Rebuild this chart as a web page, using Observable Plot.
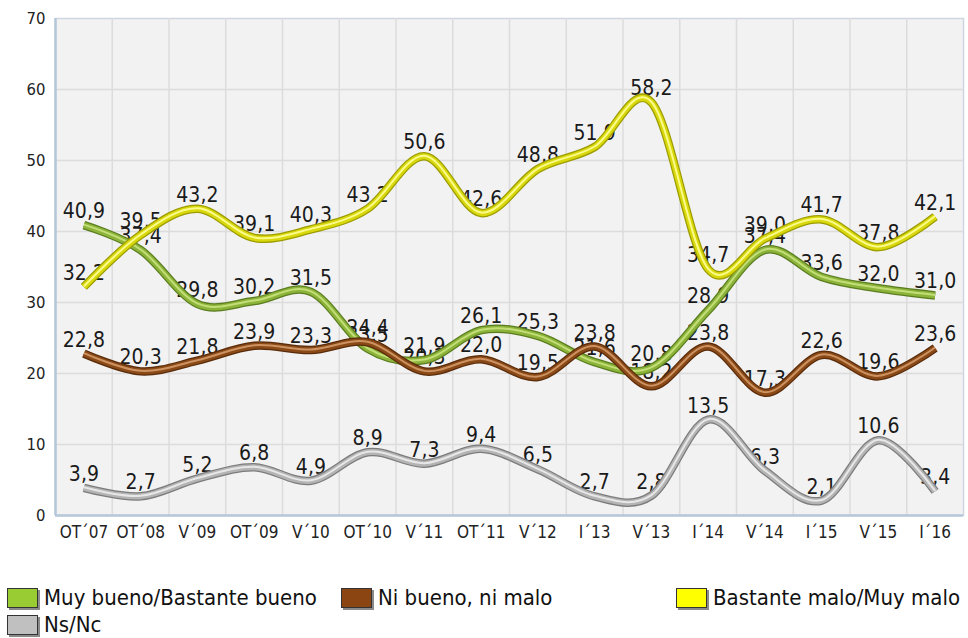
<!DOCTYPE html>
<html>
<head>
<meta charset="utf-8">
<script src="https://cdn.jsdelivr.net/npm/d3@7"></script>
<script src="https://cdn.jsdelivr.net/npm/@observablehq/plot@0.6"></script>
<style>
  html, body { margin: 0; padding: 0; background: #ffffff; }
  #wrap { position: relative; width: 968px; height: 638px; font-family: "DejaVu Sans Condensed", "DejaVu Sans", sans-serif; }
  .item { position: absolute; display: flex; align-items: center; font-size: 22px; color: #111; white-space: nowrap; }
  .sw { width: 31px; height: 20px; border: 1.5px solid #333; box-shadow: 2px 2px 0 #8a8a8a; margin-right: 6px; box-sizing: border-box; }
</style>
</head>
<body>
<div id="wrap"></div>
<script>
const categories = ["OT´07","OT´08","V´09","OT´09","V´10","OT´10","V´11","OT´11","V´12","I´13","V´13","I´14","V´14","I´15","V´15","I´16"];
const seriesNames = ["Muy bueno/Bastante bueno","Ni bueno, ni malo","Bastante malo/Muy malo","Ns/Nc"];
const bueno = [40.9,37.4,29.8,30.2,31.5,23.5,21.9,26.1,25.3,21.6,20.8,28.9,37.4,33.6,32.0,31.0];
const regular = [22.8,20.3,21.8,23.9,23.3,24.4,20.3,22.0,19.5,23.8,18.2,23.8,17.3,22.6,19.6,23.6];
const malo = [32.2,39.5,43.2,39.1,40.3,43.2,50.6,42.6,48.8,51.9,58.2,34.7,39.0,41.7,37.8,42.1];
const nsnc = [3.9,2.7,5.2,6.8,4.9,8.9,7.3,9.4,6.5,2.7,2.8,13.5,6.3,2.1,10.6,3.4];
const yTicks = [0,10,20,30,40,50,60,70];

const seriesValues = [bueno, regular, malo, nsnc];
const styles = [
  {main:"#8cb43a", dark:"#5b7d1f", light:"#c9e27e", swatch:"#99cc33"},
  {main:"#8a4a18", dark:"#5a2c0a", light:"#d49a68", swatch:"#8b4513"},
  {main:"#d8d80c", dark:"#9c9c00", light:"#ffff9a", swatch:"#ffff00"},
  {main:"#b4b4b4", dark:"#7c7c7c", light:"#ececec", swatch:"#c0c0c0"}
];

const data = seriesValues.map((vals, s) => vals.map((v, i) => ({s, i, v})));
const idx = categories.map((c, i) => i);
const bounds = idx.slice(0, -1).map(i => i + 0.5);
const fmt = v => v.toFixed(1).replace(".", ",");

const marks = [
  Plot.frame({fill: "#f2f2f2", stroke: "#cdd6e0", strokeWidth: 1.5}),
  Plot.ruleY(yTicks.filter(t => t > 0 && t < 70), {stroke: "#dcdcdc", strokeWidth: 1.5}),
  Plot.ruleX(bounds, {stroke: "#dcdcdc", strokeWidth: 1.5}),
  Plot.ruleX([-0.5], {stroke: "#b6c7da", strokeWidth: 2.5}),
  Plot.ruleY([0], {stroke: "#b6c7da", strokeWidth: 2.5}),
  Plot.axisY({ticks: yTicks, tickSize: 0, tickPadding: 10, fontSize: 16.5, label: null, fill: "#222"}),
  Plot.axisX({ticks: idx, tickFormat: i => categories[i], tickSize: 0, tickPadding: 10, fontSize: 17, label: null, fill: "#222"})
];
// labels (beneath lines, as in the reference)
data.forEach(d => {
  marks.push(Plot.text(d, {x: "i", y: "v", text: r => fmt(r.v), lineAnchor: "bottom", dy: -7, fontSize: 21, fill: "#1a1a1a"}));
});
data.forEach((d, s) => {
  const st = styles[s];
  marks.push(Plot.line(d, {x: "i", y: "v", curve: "cardinal", stroke: st.dark, strokeWidth: 8.5, strokeLinecap: "butt"}));
  marks.push(Plot.line(d, {x: "i", y: "v", curve: "cardinal", stroke: st.main, strokeWidth: 6, strokeLinecap: "butt"}));
  marks.push(Plot.line(d, {x: "i", y: "v", curve: "cardinal", stroke: st.light, strokeWidth: 2, strokeLinecap: "butt", dy: -0.5, strokeOpacity: 0.9}));
});

const chart = Plot.plot({
  width: 968,
  height: 545,
  marginLeft: 55,
  marginRight: 5,
  marginTop: 18,
  marginBottom: 30,
  style: {fontFamily: '"DejaVu Sans Condensed", "DejaVu Sans", sans-serif', background: "#ffffff"},
  x: {type: "linear", domain: [-0.5, categories.length - 0.5]},
  y: {domain: [0, 70]},
  marks
});
const wrap = document.getElementById("wrap");
wrap.appendChild(chart);

const legendPos = [
  {left: 7, top: 585},
  {left: 341, top: 585},
  {left: 676, top: 585},
  {left: 7, top: 612}
];
seriesNames.forEach((name, s) => {
  const it = document.createElement("div");
  it.className = "item";
  it.style.left = legendPos[s].left + "px";
  it.style.top = legendPos[s].top + "px";
  const sw = document.createElement("div");
  sw.className = "sw";
  sw.style.background = styles[s].swatch;
  it.appendChild(sw);
  const t = document.createElement("span");
  t.textContent = name;
  it.appendChild(t);
  wrap.appendChild(it);
});
</script>
</body>
</html>
